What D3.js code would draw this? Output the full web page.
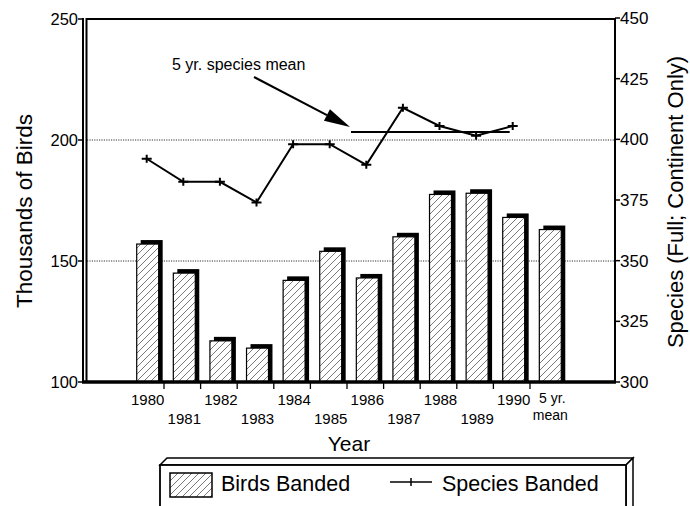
<!DOCTYPE html>
<html><head><meta charset="utf-8">
<script src="https://cdn.jsdelivr.net/npm/d3@7/dist/d3.min.js"></script>
<style>
html,body{margin:0;padding:0;background:#fff;}
svg{display:block;font-family:"Liberation Sans",Arial,Helvetica,sans-serif;}
</style></head>
<body>
<svg id="chart" width="690" height="506"></svg>
<script>
const categories = ["1980","1981","1982","1983","1984","1985","1986","1987","1988","1989","1990","5 yr. mean"];
const birdsBanded = [157, 145, 117, 114, 142, 154, 143, 160, 177.5, 178, 168, 163];
const speciesYears = ["1980","1981","1982","1983","1984","1985","1986","1987","1988","1989","1990"];
const speciesBanded = [392, 382.5, 382.5, 374, 398, 398, 389.5, 413, 405.5, 401.5, 405.5];
const meanYears = ["1986","1987","1988","1989","1990"];
const speciesMean = 403;
const leftTicks = [100, 150, 200, 250];
const rightTicks = [300, 325, 350, 375, 400, 425, 450];
const gridValues = [150, 200];

const svg = d3.select("#chart");
svg.append("rect").attr("width",690).attr("height",506).attr("fill","#fff");

const L = 87, R = 615, T = 19, B = 382;
const x = d3.scaleBand().domain(categories).range([85, 613]).paddingOuter(1.2131).paddingInner(0);
const yL = d3.scaleLinear().domain([100, 250]).range([B, T]);
const yR = d3.scaleLinear().domain([300, 450]).range([B, 18]);

const defs = svg.append("defs");
const pat = defs.append("pattern").attr("id","hatch").attr("patternUnits","userSpaceOnUse")
  .attr("width",7).attr("height",7);
pat.append("rect").attr("width",7).attr("height",7).attr("fill","#fff");
pat.append("path").attr("d","M-1,8 L8,-1 M-2,2 L2,-2 M5,9 L9,5").attr("stroke","#555").attr("stroke-width",0.8);

// gridlines
svg.append("g").selectAll("line").data(gridValues).join("line")
  .attr("x1", L).attr("x2", R).attr("y1", d => yL(d)).attr("y2", d => yL(d))
  .attr("stroke","#333").attr("stroke-width",1).attr("stroke-dasharray","1.2,1.2");

// bars
const bw = x.bandwidth() * 0.6;
const bars = svg.append("g");
categories.forEach((c, i) => {
  const x0 = x(c) + (x.bandwidth() - bw) / 2;
  const yt = yL(birdsBanded[i]);
  bars.append("rect").attr("x", x0 + 4).attr("y", yt - 4).attr("width", bw).attr("height", B - yt + 4).attr("fill","#000");
  bars.append("rect").attr("x", x0).attr("y", yt).attr("width", bw).attr("height", B - yt)
    .attr("fill","url(#hatch)").attr("stroke","#000").attr("stroke-width",1.2);
});

// species line
const cx = d => x(d) + x.bandwidth() / 2;
const pts = speciesYears.map((d, i) => [cx(d) - 1, yR(speciesBanded[i])]);
svg.append("path").attr("d", d3.line()(pts)).attr("fill","none").attr("stroke","#000").attr("stroke-width",2);
svg.append("g").selectAll("path").data(pts).join("path")
  .attr("d", p => `M${p[0]-5},${p[1]}H${p[0]+5}M${p[0]},${p[1]-4}V${p[1]+4}`)
  .attr("stroke","#000").attr("stroke-width",2);

// mean line
const mx1 = x(meanYears[0]) + 2, mx2 = cx(meanYears[meanYears.length - 1]) - 4;
svg.append("line").attr("x1", mx1).attr("x2", mx2).attr("y1", yR(speciesMean)).attr("y2", yR(speciesMean))
  .attr("stroke","#000").attr("stroke-width",2);

// frame / axes
const ax = svg.append("g").attr("stroke","#000").attr("fill","none");
ax.append("line").attr("x1",83).attr("x2",83).attr("y1",T-1).attr("y2",B+1).attr("stroke-width",2);
ax.append("line").attr("x1",86.5).attr("x2",86.5).attr("y1",T-1).attr("y2",B+1).attr("stroke-width",2);
ax.append("line").attr("x1",86).attr("x2",R).attr("y1",T).attr("y2",T).attr("stroke-width",2);
ax.append("line").attr("x1",R).attr("x2",R).attr("y1",T-1).attr("y2",B+1).attr("stroke-width",2);
ax.append("line").attr("x1",82).attr("x2",R+1).attr("y1",B).attr("y2",B).attr("stroke-width",3.5);

// left ticks
ax.selectAll(".lt").data(leftTicks).join("line").attr("x1",78).attr("x2",83)
  .attr("y1", d => yL(d)).attr("y2", d => yL(d)).attr("stroke-width",1.5);
svg.append("g").selectAll("text").data(leftTicks).join("text")
  .attr("x",78).attr("y", d => yL(d)).attr("dy","0.36em").attr("text-anchor","end")
  .attr("font-size",16.5).text(d => d);
// right ticks
ax.selectAll(".rt").data(rightTicks).join("line").attr("x1",R).attr("x2",R+5)
  .attr("y1", d => yR(d)).attr("y2", d => yR(d)).attr("stroke-width",1.5);
svg.append("g").selectAll("text").data(rightTicks).join("text")
  .attr("x",R + 5).attr("y", d => yR(d)).attr("dy","0.36em").attr("text-anchor","start")
  .attr("font-size",17).text(d => d);

// x ticks between categories
ax.selectAll(".xt").data(categories.slice(1)).join("line")
  .attr("x1", d => x(d) - 2).attr("x2", d => x(d) - 2).attr("y1", B).attr("y2", B + 7).attr("stroke-width",1.3);

// x labels
const xl = svg.append("g").attr("font-size",15).attr("text-anchor","middle");
categories.forEach((c, i) => {
  if (c === "5 yr. mean") {
    xl.append("text").attr("x", cx(c) + 2).attr("y", 403).attr("font-size",14).text("5 yr.");
    xl.append("text").attr("x", cx(c)).attr("y", 420).attr("font-size",14).text("mean");
  } else {
    xl.append("text").attr("x", cx(c)).attr("y", i % 2 === 0 ? 405 : 424).text(c);
  }
});

// axis titles
svg.append("text").attr("x", 349).attr("y", 451).attr("text-anchor","middle").attr("font-size",21).text("Year");
svg.append("text").attr("transform","translate(32,211) rotate(-90)").attr("text-anchor","middle").attr("font-size",22.5).text("Thousands of Birds");
svg.append("text").attr("transform","translate(683,202) rotate(-90)").attr("text-anchor","middle").attr("font-size",22).text("Species (Full; Continent Only)");

// annotation
svg.append("text").attr("x",172).attr("y",70).attr("font-size",16).text("5 yr. species mean");
const a0 = [254, 77], a1 = [mx1 - 1, yR(speciesMean) - 5];
const dx = a1[0] - a0[0], dy = a1[1] - a0[1], len = Math.hypot(dx, dy);
const ux = dx / len, uy = dy / len, hl = 26, hw = 6.5;
const bx = a1[0] - ux * hl, by = a1[1] - uy * hl;
svg.append("line").attr("x1",a0[0]).attr("y1",a0[1]).attr("x2",bx).attr("y2",by).attr("stroke","#000").attr("stroke-width",2);
svg.append("path").attr("d",`M${a1[0]},${a1[1]}L${bx - uy*hw},${by + ux*hw}L${bx + uy*hw},${by - ux*hw}Z`).attr("fill","#000");

// legend
const lg = svg.append("g");
lg.append("path").attr("d","M160,465 L167,458 L633,458 L626,465 Z").attr("fill","#fff").attr("stroke","#000").attr("stroke-width",1.5);
lg.append("path").attr("d","M626,465 L633,458 L633,520 L626,520 Z").attr("fill","#fff").attr("stroke","#000").attr("stroke-width",1.5);
lg.append("rect").attr("x",160).attr("y",465).attr("width",466).attr("height",60).attr("fill","#fff").attr("stroke","#000").attr("stroke-width",1.8);
lg.append("rect").attr("x",170).attr("y",473).attr("width",42).attr("height",24).attr("fill","url(#hatch)").attr("stroke","#000").attr("stroke-width",1.5);
lg.append("text").attr("x",221).attr("y",491).attr("font-size",21.5).text("Birds Banded");
lg.append("line").attr("x1",390).attr("x2",432).attr("y1",482).attr("y2",482).attr("stroke","#000").attr("stroke-width",1.5);
lg.append("line").attr("x1",411).attr("x2",411).attr("y1",478).attr("y2",486).attr("stroke","#000").attr("stroke-width",1.5);
lg.append("text").attr("x",442).attr("y",491).attr("font-size",21.5).text("Species Banded");
</script>
</body></html>
